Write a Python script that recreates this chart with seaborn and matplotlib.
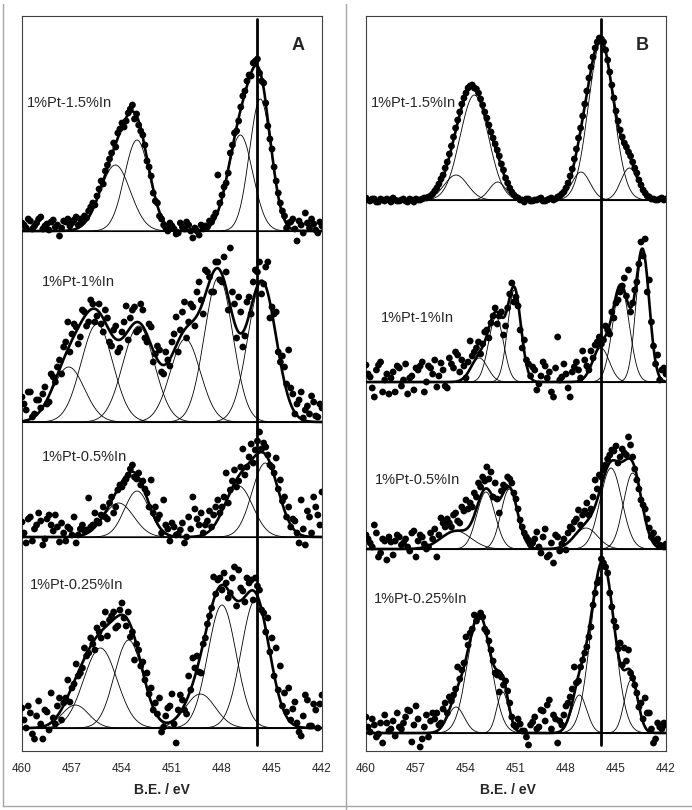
import numpy as np
import matplotlib
matplotlib.use('Agg')
import matplotlib.pyplot as plt
import seaborn as sns
from matplotlib.lines import Line2D

# measurement grid (B.E. in eV): main points every 0.25 eV, second pass in between
energy = np.linspace(460, 442, 73)
energy_mid = np.linspace(459.875, 442.125, 72)
ref_energy = 445.9
ticks = [460, 457, 454, 451, 448, 445, 442]

labels = ['1%Pt-1.5%In', '1%Pt-1%In', '1%Pt-0.5%In', '1%Pt-0.25%In']

# stacking offsets of every spectrum (intensity units)
a_offsets = [520, 329, 214, 23]
b_offsets = [551, 369, 202, 18]

# fitted components: (centre eV, height, sigma eV)
a1_peaks = [(454.4, 66, 0.9), (453.1, 91, 0.75), (446.9, 96, 0.75), (445.7, 132, 0.65)]
a2_peaks = [(457.2, 55, 0.95), (455.5, 98, 0.95), (453.0, 96, 0.95), (450.2, 83, 0.9),
            (448.2, 145, 0.85), (445.6, 140, 0.85)]
a3_peaks = [(454.2, 34, 0.9), (453.1, 46, 0.75), (447.0, 51, 0.85), (445.4, 74, 0.8)]
a4_peaks = [(456.8, 23, 0.8), (455.3, 80, 1.0), (453.6, 88, 0.85), (449.3, 34, 0.9),
            (448.0, 123, 0.85), (446.0, 128, 0.85)]

b1_peaks = [(454.6, 25, 0.7), (453.5, 105, 0.85), (452.1, 18, 0.5), (447.1, 28, 0.55),
            (445.9, 158, 0.75), (444.2, 32, 0.5)]
b2_peaks = [(453.2, 24, 0.5), (452.2, 65, 0.45), (451.1, 92, 0.4), (445.9, 34, 0.5),
            (444.7, 95, 0.5), (443.4, 130, 0.4)]
b3_peaks = [(454.6, 18, 0.9), (452.8, 57, 0.55), (451.4, 60, 0.5), (446.8, 21, 0.7),
            (445.3, 81, 0.65), (444.0, 76, 0.55)]
b4_peaks = [(454.6, 26, 0.5), (453.2, 118, 0.7), (451.8, 41, 0.35), (447.2, 38, 0.45),
            (445.8, 172, 0.7), (444.1, 53, 0.4)]

# measured intensities on the main grid
a1_counts = [8, 3, 10, 5, 12, 2, 7, 9, 4, -5, 10, 12, 8, 14, 12, 15, 20, 28, 35, 50,
             60, 72, 88, 98, 108, 110, 122, 112, 106, 96, 70, 55, 30, 15, 6, 0, 5, -3, 8, 2,
             6, -7, 0, 6, 5, 10, 14, 56, 36, 48, 78, 98, 110, 135, 150, 155, 170, 158, 148, 105,
             82, 50, 28, 15, 8, 12, -10, 6, 18, 3, 7, -2, 5]
a2_counts = [25, 12, 30, 8, 22, 28, 18, 48, 40, 62, 75, 100, 88, 95, 85, 110, 100, 118, 106, 98,
             112, 80, 92, 70, 90, 116, 104, 115, 92, 112, 80, 95, 68, 72, 48, 62, 80, 105, 92, 120,
             100, 115, 130, 122, 152, 145, 130, 160, 140, 150, 174, 118, 125, 75, 120, 108, 152, 160, 138, 160,
             115, 110, 60, 55, 72, 28, 18, 30, 12, 8, 20, 5, 14]
a3_counts = [15, -6, 20, 8, 24, -8, 18, 12, 22, -5, 4, 10, 2, -6, 8, 6, 39, 12, 16, 22,
             20, 34, 24, 47, 50, 58, 68, 60, 64, 56, 44, 57, 30, 22, 37, 8, 14, 2, 7, -6,
             20, 40, 18, 24, 12, 26, 22, 37, 30, 64, 47, 67, 56, 88, 70, 93, 87, 105, 94, 82,
             70, 79, 57, 40, 30, 18, 4, 37, -8, 20, 40, 22, 45]
a4_counts = [20, 0, 15, -11, 27, -11, 16, 35, 4, 30, 25, 48, 40, 64, 55, 80, 75, 84, 100, 90,
             116, 108, 116, 102, 125, 102, 91, 68, 78, 66, 55, 40, 25, 30, 1, 20, 34, -15, 33, 18,
             52, 70, 72, 55, 90, 112, 151, 148, 138, 145, 135, 161, 158, 137, 150, 148, 150, 138, 115, 110,
             90, 80, 62, 35, 40, 19, 5, -8, 33, 2, 24, 0, 33]

b1_counts = [2, -1, 1, -2, 0, 1, -2, 0, -1, 1, -2, 0, 1, 0, 2, 3, 6, 12, 21, 32,
             46, 63, 80, 96, 107, 114, 112, 107, 95, 82, 68, 56, 44, 30, 17, 8, 3, 0, -2, 1,
             -1, 0, 2, -1, 1, 0, 3, 6, 12, 24, 41, 62, 84, 109, 133, 152, 162, 158, 140, 115,
             89, 70, 57, 48, 38, 27, 15, 7, 3, 1, 0, 2, 1]
b2_counts = [17, 5, -15, 17, -10, 8, 4, -10, 14, 2, -12, 6, 14, 16, -10, 16, 8, -5, 19, -4,
             24, 14, 27, 22, 4, 41, 30, 40, 38, 52, 59, 74, 66, 47, 74, 99, 85, 52, 42, 18,
             15, -8, 6, 16, 10, -15, 45, 5, 8, -15, 15, 12, 31, 16, 31, 37, 45, 42, 52, 70,
             79, 90, 104, 112, 79, 100, 140, 143, 102, 36, 27, 12, 8]
b3_counts = [14, 6, 24, -8, 10, -11, 7, 8, 12, 6, 2, 16, -8, 14, 5, 2, 10, -8, 31, 22,
             26, 34, 28, 42, 49, 46, 56, 66, 72, 82, 77, 66, 36, 64, 72, 66, 50, 29, 16, 9,
             6, 17, -4, 20, -6, -14, 12, 5, -1, 22, 27, 39, 34, 46, 40, 69, 74, 79, 90, 99,
             103, 92, 96, 112, 92, 69, 49, 40, 21, 16, 10, 3, 5]
b4_counts = [16, 1, 8, -1, -10, 10, 4, -3, 6, 10, 23, -9, 27, -14, 6, -4, 20, 20, 10, 30,
             36, 38, 66, 63, 96, 100, 118, 116, 116, 101, 83, 60, 41, 48, 42, 16, 6, 9, 2, -12,
             11, 4, 23, 12, 33, 18, -10, 8, 27, 36, 66, 52, 73, 86, 106, 140, 153, 170, 160, 126,
             106, 90, 85, 83, 55, 40, 30, 35, 20, -10, 10, 4, 8]

# measured intensities on the in-between grid
a1_mid = [6, 12, 2, 8, 14, 5, 1, 11, 6, 3, 9, 5, 11, 6, 10, 13,
          24, 26, 42, 47, 66, 78, 84, 102, 104, 118, 126, 117, 100, 86, 64, 38,
          28, 12, 3, 8, 2, -2, 4, 9, 0, 3, -4, 2, 4, 9, 18, 28,
          44, 58, 86, 100, 124, 140, 156, 168, 172, 150, 128, 92, 64, 38, 20, 3,
          9, 2, 10, -2, 8, 12, 1, 9]
a2_mid = [18, 30, 5, 22, 14, 35, 20, 45, 55, 48, 80, 70, 98, 78, 112, 96,
          122, 100, 118, 90, 104, 76, 96, 74, 100, 82, 112, 90, 118, 84, 98, 60,
          76, 50, 70, 56, 88, 70, 110, 84, 118, 96, 140, 108, 150, 130, 160, 142,
          165, 112, 130, 84, 110, 86, 125, 140, 150, 128, 155, 104, 108, 70, 66, 38,
          34, 8, 22, 4, 16, 26, 6, 18]
a3_mid = [4, 18, -4, 12, 16, -2, 22, 6, 10, 14, -4, 8, 20, 2, 12, 7,
          10, 24, 14, 30, 18, 40, 30, 52, 54, 62, 72, 58, 52, 48, 30, 24,
          18, 4, 12, -4, 10, 3, 14, 0, 8, 28, 12, 4, 16, 10, 30, 24,
          40, 34, 56, 50, 70, 62, 80, 74, 96, 88, 90, 72, 64, 48, 36, 20,
          10, 16, -6, 8, 26, 4, 30, 12]
a4_mid = [8, 22, -6, 12, 4, 18, -2, 10, 22, 8, 30, 26, 44, 52, 60, 72,
          90, 78, 96, 104, 92, 112, 100, 118, 110, 116, 96, 84, 62, 48, 34, 18,
          14, -4, 12, 22, 4, 18, 28, 14, 38, 60, 56, 84, 104, 120, 134, 150,
          155, 130, 150, 122, 140, 126, 145, 128, 142, 118, 96, 76, 52, 38, 22, 16,
          8, 26, -4, 12, 28, 2, 18, 24]

b1_mid = [0, 1, -2, 1, -1, 0, 2, -1, 0, -1, 1, -2, 0, 1, 2, 4,
          9, 16, 25, 38, 54, 72, 88, 102, 112, 115, 111, 101, 88, 75, 62, 50,
          36, 22, 12, 5, 2, 0, 1, -1, 0, 1, -1, 0, 2, 1, 4, 8,
          17, 31, 51, 72, 96, 122, 143, 158, 161, 150, 128, 102, 79, 63, 53, 44,
          32, 20, 10, 4, 1, 0, 1, 0]
b2_mid = [8, -6, 12, 20, 2, -12, 10, 16, -4, 18, 4, -8, 12, 20, 0, 14,
          22, 6, 12, -6, 18, 30, 10, 16, 20, 26, 34, 28, 50, 44, 66, 58,
          70, 56, 88, 80, 76, 34, 22, 6, 12, -2, 20, 4, -10, 14, 2, 18,
          -6, 10, 20, 4, 22, 12, 24, 40, 38, 56, 48, 64, 82, 96, 86, 70,
          92, 118, 126, 90, 60, 18, 2, 14]
b3_mid = [10, 2, 16, -4, 8, 12, -6, 14, 4, 10, -2, 18, 8, 12, 0, 16,
          20, 14, 26, 30, 22, 36, 26, 38, 40, 42, 52, 62, 68, 70, 52, 50,
          58, 62, 70, 56, 40, 22, 12, 4, 10, 2, 12, -8, 6, 14, -2, 10,
          16, 20, 30, 24, 38, 34, 52, 60, 72, 84, 94, 98, 86, 100, 94, 104,
          80, 60, 44, 30, 12, 8, 4, 2]
b4_mid = [6, 14, -4, 10, 18, 2, 12, 20, 4, 16, 22, 8, 14, -6, 18, 12,
          14, 8, 24, 20, 32, 44, 54, 70, 88, 104, 112, 120, 104, 92, 72, 58,
          56, 52, 30, 8, 14, 2, -4, 8, 16, 6, 22, 28, 4, 14, 12, 18,
          30, 44, 50, 66, 80, 96, 128, 150, 174, 166, 140, 112, 84, 68, 72, 60,
          48, 26, 14, 20, 4, -6, 6, 10]

# label anchors in axes fraction
a_label_pos = [(0.017, 0.882), (0.067, 0.638), (0.067, 0.400), (0.027, 0.226)]
b_label_pos = [(0.017, 0.882), (0.050, 0.589), (0.030, 0.369), (0.027, 0.207)]

sns.set_style('white')
plt.rcParams['font.family'] = ['Liberation Sans', 'DejaVu Sans']


def gauss(e, c, h, w):
    return h * np.exp(-(e - c) ** 2 / (2 * w * w))


def draw_panel(ax, peaks_list, counts_list, mid_list, offsets, label_pos, letter, xlab_x):
    fine = np.linspace(442, 460, 901)
    for peaks, counts, mids, off, lab, pos in zip(peaks_list, counts_list, mid_list,
                                                  offsets, labels, label_pos):
        ax.axhline(off, color='black', lw=0.8, zorder=1)
        total = np.zeros_like(fine)
        for c, h, w in peaks:
            g = gauss(fine, c, h, w)
            total += g
            sns.lineplot(x=fine, y=g + off, ax=ax, color='black', lw=0.6,
                         estimator=None, legend=False, zorder=2)
        sns.lineplot(x=fine, y=total + off, ax=ax, color='black', lw=1.9,
                     estimator=None, legend=False, zorder=4)
        x_all = np.concatenate([energy, energy_mid])
        y_all = np.concatenate([counts, mids]) + off
        sns.scatterplot(x=x_all, y=y_all, ax=ax, color='black',
                        s=24, edgecolor='none', legend=False, zorder=3)
        ax.text(pos[0], pos[1], lab, transform=ax.transAxes, fontsize=10.5,
                va='center', ha='left')

    ax.axvline(ref_energy, ymin=0.008, ymax=0.996, color='black', lw=2.0, zorder=5)
    ax.set_xlim(460, 442)
    ax.set_ylim(0, 735)
    ax.set_xticks(ticks)
    ax.set_xticklabels([str(t) for t in ticks])
    ax.set_yticks([])
    ax.tick_params(axis='x', length=0, pad=9, labelsize=8.5)
    for sp in ax.spines.values():
        sp.set_visible(True)
        sp.set_color('#404040')
        sp.set_linewidth(0.8)
    ax.set_xlabel('B.E. / eV', fontsize=10, fontweight='bold')
    ax.xaxis.set_label_coords(xlab_x, -0.043)
    ax.text(0.92, 0.96, letter, transform=ax.transAxes, fontsize=13,
            fontweight='bold', ha='center', va='center')


fig = plt.figure(figsize=(6.92, 8.10), dpi=100)
W, H = 692, 810
ax_a = fig.add_axes([22 / W, (H - 751) / H, 300 / W, 735 / H])
ax_b = fig.add_axes([366 / W, (H - 751) / H, 300 / W, 735 / H])

draw_panel(ax_a, [a1_peaks, a2_peaks, a3_peaks, a4_peaks],
           [a1_counts, a2_counts, a3_counts, a4_counts],
           [a1_mid, a2_mid, a3_mid, a4_mid], a_offsets, a_label_pos, 'A', 0.467)
draw_panel(ax_b, [b1_peaks, b2_peaks, b3_peaks, b4_peaks],
           [b1_counts, b2_counts, b3_counts, b4_counts],
           [b1_mid, b2_mid, b3_mid, b4_mid], b_offsets, b_label_pos, 'B', 0.473)

# grey frame lines around the two panels
frame = '#a6a6a6'
fig.add_artist(Line2D([3 / W, 3 / W], [1 - 806 / H, 1 - 4 / H], color=frame, lw=1))
fig.add_artist(Line2D([346 / W, 346 / W], [0, 1 - 4 / H], color=frame, lw=1))
fig.add_artist(Line2D([3 / W, 1], [1 - 806 / H, 1 - 806 / H], color=frame, lw=1))

fig.savefig('out.png', dpi=100)
